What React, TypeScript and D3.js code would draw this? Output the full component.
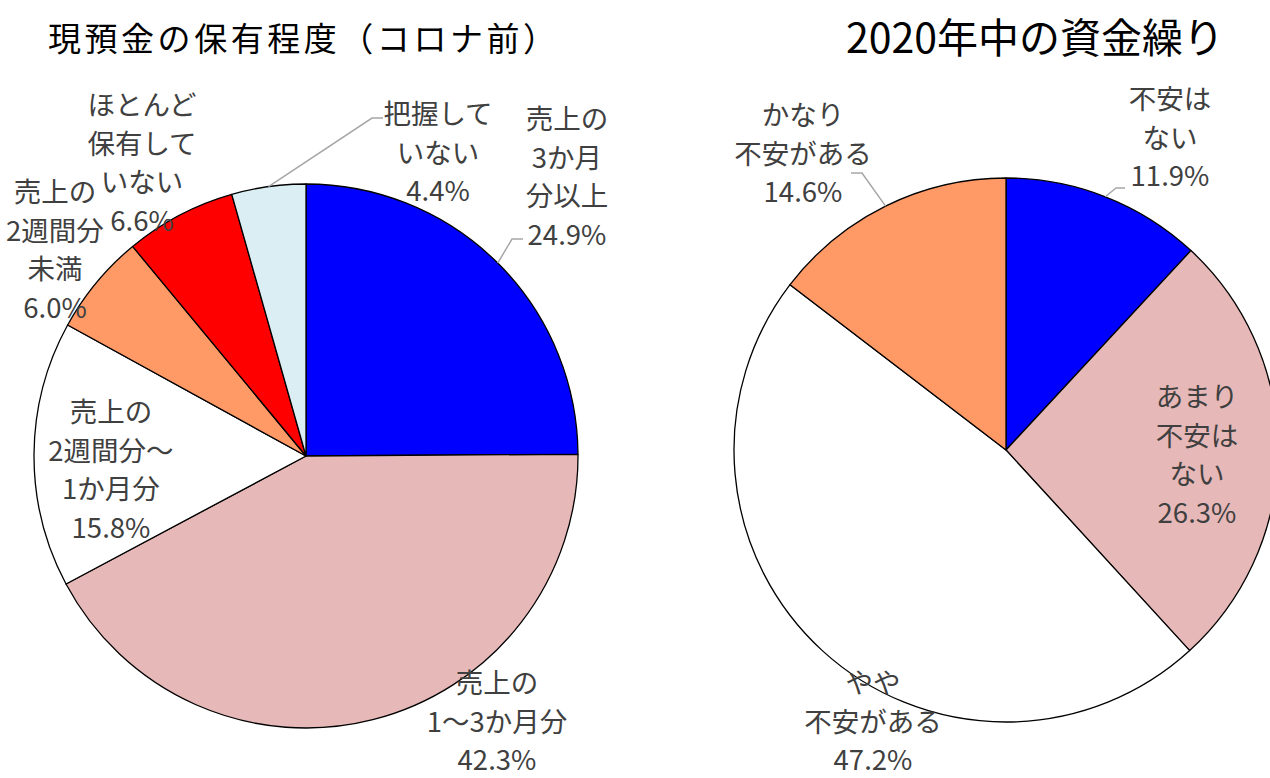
import React from "react";
import * as d3 from "d3";

// ---------- data ----------
const leftTitle = "現預金の保有程度（コロナ前）";
const leftCategories = [
  "売上の3か月分以上",
  "売上の1～3か月分",
  "売上の2週間分～1か月分",
  "売上の2週間分未満",
  "ほとんど保有していない",
  "把握していない",
];
const leftValues = [24.9, 42.3, 15.8, 6.0, 6.6, 4.4];
const leftLabelLines = [
  ["売上の", "3か月", "分以上"],
  ["売上の", "1～3か月分"],
  ["売上の", "2週間分～", "1か月分"],
  ["売上の", "2週間分", "未満"],
  ["ほとんど", "保有して", "いない"],
  ["把握して", "いない"],
];

const rightTitle = "2020年中の資金繰り";
const rightCategories = ["不安はない", "あまり不安はない", "やや不安がある", "かなり不安がある"];
const rightValues = [11.9, 26.3, 47.2, 14.6];
const rightLabelLines = [
  ["不安は", "ない"],
  ["あまり", "不安は", "ない"],
  ["やや", "不安がある"],
  ["かなり", "不安がある"],
];

// ---------- styles / layout ----------
const leftColors = ["#0000FF", "#E6B9B8", "#FFFFFF", "#FF9966", "#FF0000", "#DAEEF3"];
const rightColors = ["#0000FF", "#E6B9B8", "#FFFFFF", "#FF9966"];

type Leader = { ex: number; ey: number; tx: number } | null;
type LabelPos = { x: number; y: number; dy: number; leader: Leader };

const leftChart = { cx: 306, cy: 456, r: 272 };
const rightChart = { cx: 1006, cy: 450, r: 272 };

const leftLabelPos: LabelPos[] = [
  { x: 567, y: 117, dy: 38.5, leader: { ex: 512, ey: 239, tx: 523 } },
  { x: 497, y: 681, dy: 38.5, leader: null },
  { x: 111, y: 410, dy: 38.5, leader: null },
  { x: 55, y: 190, dy: 38.5, leader: null },
  { x: 142, y: 103, dy: 38.5, leader: null },
  { x: 438, y: 112, dy: 38.5, leader: { ex: 372, ey: 118, tx: 383 } },
];
const rightLabelPos: LabelPos[] = [
  { x: 1170, y: 97, dy: 38.5, leader: { ex: 1116, ey: 188, tx: 1125 } },
  { x: 1197, y: 395, dy: 38.5, leader: null },
  { x: 873, y: 681, dy: 38.5, leader: null },
  { x: 803, y: 113, dy: 38.5, leader: { ex: 862, ey: 173, tx: 851 } },
];

const labelFont = "'Noto Sans CJK JP', 'Noto Sans', sans-serif";
const fmt = d3.format(".1f");

function Pie({
  values,
  categories,
  lines,
  colors,
  chart,
  pos,
}: {
  values: number[];
  categories: string[];
  lines: string[][];
  colors: string[];
  chart: { cx: number; cy: number; r: number };
  pos: LabelPos[];
}) {
  const pie = d3.pie<number>().sort(null).value((d) => d);
  const arcs = pie(values);
  const arc = d3.arc<d3.PieArcDatum<number>>().innerRadius(0).outerRadius(chart.r);
  const edge = d3.arc<d3.PieArcDatum<number>>().innerRadius(chart.r).outerRadius(chart.r);
  return (
    <g>
      <g transform={`translate(${chart.cx},${chart.cy})`}>
        {arcs.map((a, i) => (
          <path
            key={categories[i]}
            d={arc(a) || ""}
            fill={colors[i]}
            stroke="#000"
            strokeWidth={1.3}
            strokeLinejoin="round"
          />
        ))}
      </g>
      {arcs.map((a, i) => {
        const p = pos[i];
        if (!p.leader) return null;
        const [x, y] = edge.centroid(a);
        const pts = [
          [chart.cx + x, chart.cy + y],
          [p.leader.ex, p.leader.ey],
          [p.leader.tx, p.leader.ey],
        ];
        return (
          <polyline
            key={"l" + i}
            points={pts.map((q) => q.join(",")).join(" ")}
            fill="none"
            stroke="#A6A6A6"
            strokeWidth={1.5}
          />
        );
      })}
      {arcs.map((a, i) => {
        const p = pos[i];
        const all = [...lines[i], fmt(values[i]) + "%"];
        return (
          <text
            key={"t" + i}
            fontFamily={labelFont}
            fontSize={27.5}
            fill="#404040"
            textAnchor="middle"
          >
            {all.map((s, j) => (
              <tspan key={j} x={p.x} y={p.y + j * p.dy} dominantBaseline="central">
                {s}
              </tspan>
            ))}
          </text>
        );
      })}
    </g>
  );
}

export default function App() {
  return (
    <svg
      width={1270}
      height={778}
      style={{ position: "absolute", left: 0, top: 0, background: "#fff" }}
    >
      <rect width={1270} height={778} fill="#fff" />
      <text
        x={48}
        y={37}
        fontFamily={labelFont}
        fontSize={33}
        fill="#000"
        dominantBaseline="central"
        textLength={508}
        lengthAdjust="spacing"
      >
        {leftTitle}
      </text>
      <text
        x={846}
        y={35}
        fontFamily={labelFont}
        fontSize={41}
        fill="#000"
        dominantBaseline="central"
      >
        {rightTitle}
      </text>
      <Pie
        values={leftValues}
        categories={leftCategories}
        lines={leftLabelLines}
        colors={leftColors}
        chart={leftChart}
        pos={leftLabelPos}
      />
      <Pie
        values={rightValues}
        categories={rightCategories}
        lines={rightLabelLines}
        colors={rightColors}
        chart={rightChart}
        pos={rightLabelPos}
      />
    </svg>
  );
}
